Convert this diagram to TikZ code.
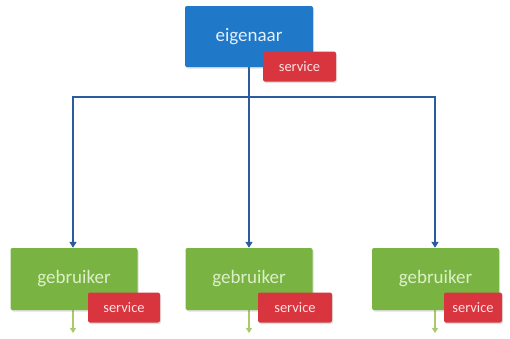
\documentclass[tikz,border=0pt]{standalone}
\usepackage{fontspec}
\setmainfont{Carlito}
\usetikzlibrary{arrows.meta,shadows,backgrounds}
\definecolor{bluebox}{HTML}{1F78C8}
\definecolor{greenbox}{HTML}{79B443}
\definecolor{redbox}{HTML}{D8353F}
\definecolor{linecol}{HTML}{2B5C9E}
\definecolor{greenline}{HTML}{A9C96A}
\definecolor{gtext}{HTML}{DDEFC8}
\definecolor{btext}{HTML}{E4F0FA}
\definecolor{stext}{HTML}{FBE3E4}
\tikzset{
  box/.style={rounded corners=2pt, inner sep=0pt, drop shadow={shadow xshift=1pt, shadow yshift=-1.5pt, opacity=0.25}},
  ownerbox/.style={box, fill=bluebox, minimum width=128pt, minimum height=61pt, text=btext, font=\fontsize{19}{21}\selectfont},
  userbox/.style={box, fill=greenbox, minimum width=127pt, minimum height=62pt, text=gtext, font=\fontsize{19}{21}\selectfont},
  servicebox/.style={box, fill=redbox, minimum height=30pt, text=stext, font=\fontsize{14.5}{16}\selectfont},
  conn/.style={draw=linecol, line width=1.6pt},
  arr/.style={conn, -{Triangle[length=6pt,width=7pt]}},
  garr/.style={draw=greenline, line width=1.3pt, -{Triangle[length=5pt,width=6pt]}}
}
\begin{document}
\begin{tikzpicture}[x=1pt,y=-1pt]
\useasboundingbox (0,0) rectangle (510,338);
% owner
\node[ownerbox] (eig) at (249,36.5) {eigenaar};
\node[servicebox, minimum width=73pt] (s0) at (299.5,66.5) {service};
% users
\node[userbox] (g1) at (74,279) {gebruiker};
\node[servicebox, minimum width=72pt] (s1) at (124,307.5) {service};
\node[userbox] (g2) at (249,279) {gebruiker};
\node[servicebox, minimum width=74pt] (s2) at (295,307.5) {service};
\node[userbox] (g3) at (435.5,279) {gebruiker};
\node[servicebox, minimum width=58pt] (s3) at (473,307.5) {service};
% connectors
\coordinate (hub) at (249,97);
\coordinate (c1) at (73,333);
\coordinate (c2) at (249,333);
\coordinate (c3) at (435,333);
\begin{scope}[on background layer]
\draw[conn] (eig.south) -- (hub);
\draw[arr] (hub) -| ([xshift=-1pt]g1.north);
\draw[arr] (hub) -- (g2.north);
\draw[arr] (hub) -| ([xshift=-0.5pt]g3.north);
\draw[garr] ([xshift=-1pt]g1.south) -- (c1);
\draw[garr] (g2.south) -- (c2);
\draw[garr] ([xshift=-0.5pt]g3.south) -- (c3);
\end{scope}
\end{tikzpicture}
\end{document}
